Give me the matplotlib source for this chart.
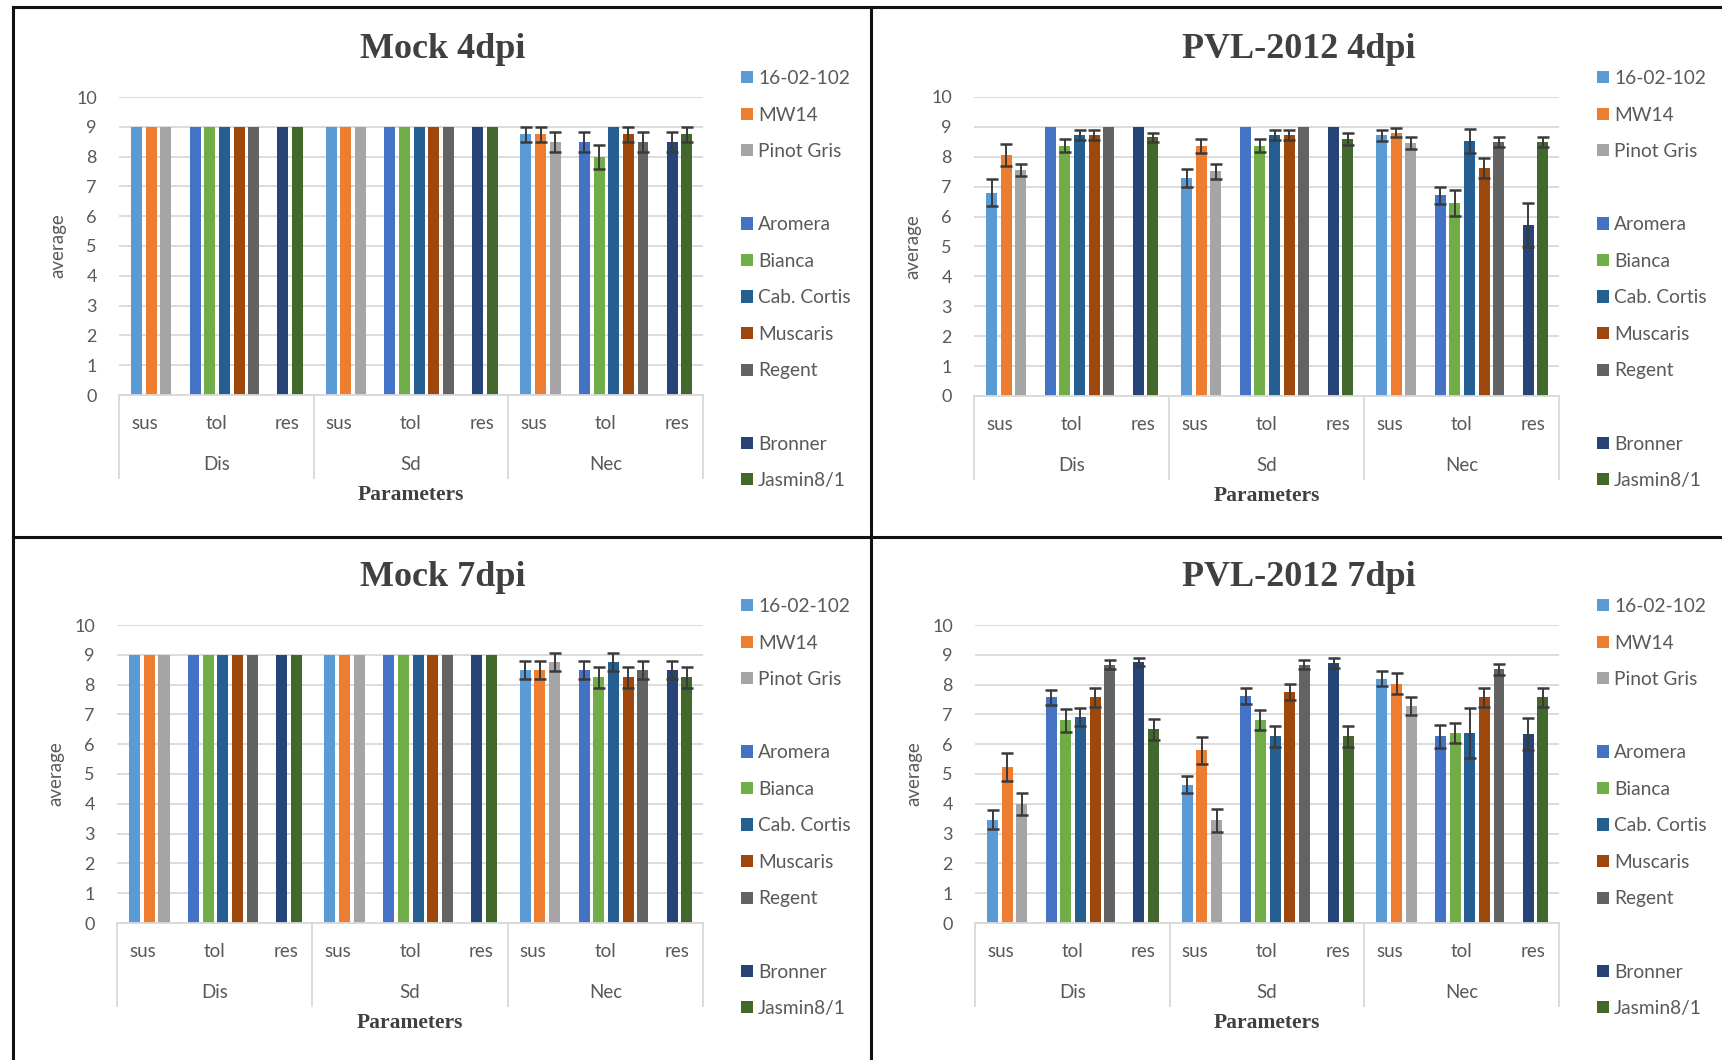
import matplotlib
matplotlib.use("Agg")
import matplotlib.pyplot as plt
from matplotlib.patches import Rectangle
from matplotlib.lines import Line2D
import matplotlib.transforms as mtransforms

# ---------------- data ----------------
series = ["16-02-102", "MW14", "Pinot Gris", "Aromera", "Bianca", "Cab. Cortis",
          "Muscaris", "Regent", "Bronner", "Jasmin8/1"]
colors = ["#5B9BD5", "#ED7D31", "#A5A5A5", "#4472C4", "#70AD47", "#255E91",
          "#9E480E", "#636363", "#264478", "#43682B"]
groups = ["sus", "tol", "res"]
params = ["Dis", "Sd", "Nec"]
yticks = list(range(0, 11))

# values: one row per parameter (Dis, Sd, Nec), one column per series
mock4_mean = [[9, 9, 9, 9, 9, 9, 9, 9, 9, 9],
              [9, 9, 9, 9, 9, 9, 9, 9, 9, 9],
              [8.75, 8.75, 8.5, 8.5, 8.0, 9.0, 8.75, 8.5, 8.5, 8.75]]
mock4_err = [[0] * 10,
             [0] * 10,
             [0.25, 0.25, 0.33, 0.33, 0.4, 0, 0.25, 0.33, 0.33, 0.25]]

pvl4_mean = [[6.8, 8.05, 7.55, 9.0, 8.37, 8.72, 8.72, 9.0, 9.0, 8.65],
             [7.3, 8.36, 7.52, 9.0, 8.37, 8.72, 8.72, 9.0, 9.0, 8.58],
             [8.72, 8.8, 8.47, 6.71, 6.45, 8.53, 7.63, 8.5, 5.72, 8.5]]
pvl4_err = [[0.45, 0.37, 0.2, 0, 0.21, 0.16, 0.16, 0, 0, 0.15],
            [0.3, 0.22, 0.25, 0, 0.21, 0.16, 0.16, 0, 0, 0.2],
            [0.18, 0.15, 0.2, 0.28, 0.43, 0.39, 0.33, 0.16, 0.73, 0.16]]

mock7_mean = [[9, 9, 9, 9, 9, 9, 9, 9, 9, 9],
              [9, 9, 9, 9, 9, 9, 9, 9, 9, 9],
              [8.5, 8.5, 8.75, 8.5, 8.25, 8.75, 8.25, 8.5, 8.5, 8.25]]
mock7_err = [[0] * 10,
             [0] * 10,
             [0.3, 0.3, 0.3, 0.3, 0.35, 0.3, 0.35, 0.3, 0.3, 0.35]]

pvl7_mean = [[3.47, 5.23, 4.0, 7.57, 6.8, 6.91, 7.57, 8.67, 8.76, 6.5],
             [4.64, 5.79, 3.44, 7.61, 6.8, 6.26, 7.75, 8.67, 8.73, 6.26],
             [8.2, 8.03, 7.28, 6.26, 6.38, 6.38, 7.57, 8.51, 6.34, 7.57]]
pvl7_err = [[0.32, 0.48, 0.37, 0.26, 0.39, 0.3, 0.32, 0.14, 0.14, 0.35],
            [0.29, 0.45, 0.39, 0.27, 0.34, 0.36, 0.27, 0.14, 0.17, 0.36],
            [0.25, 0.36, 0.31, 0.39, 0.34, 0.84, 0.32, 0.18, 0.55, 0.32]]

titles = ["Mock 4dpi", "PVL-2012 4dpi", "Mock 7dpi", "PVL-2012 7dpi"]
panel_data = [(mock4_mean, mock4_err), (pvl4_mean, pvl4_err),
              (mock7_mean, mock7_err), (pvl7_mean, pvl7_err)]

# ---------------- layout ----------------
W, H = 1722, 1060
fig = plt.figure(figsize=(W / 100, H / 100), dpi=100)
fig.patch.set_facecolor("white")

SANS = ["Lato", "DejaVu Sans"]
SERIF = ["Liberation Serif", "DejaVu Serif"]
TXT = "#595959"
GRID = "#D9D9D9"

# pixel boxes: (left, right, top(y=10), bottom(y=0)), title center, legend anchor
panels = [
    dict(ax=(119, 703, 97, 395), title=(443, 50), leg=(741, 70)),
    dict(ax=(974, 1559, 97, 396), title=(1299, 50), leg=(1597, 70)),
    dict(ax=(117, 703, 625, 923), title=(443, 578), leg=(741, 598)),
    dict(ax=(975, 1559, 625, 923), title=(1299, 578), leg=(1597, 598)),
]

PW = 13.3          # width of one parameter block (in bar slots)
SLOT0 = 1.2        # centre of first slot inside a block
BW = 0.75          # bar width
label_frac = [0.13, 0.5, 0.865]


def slot_of(i):
    return i + (1 if i >= 3 else 0) + (1 if i >= 8 else 0)


for k, (pan, (means, errs)) in enumerate(zip(panels, panel_data)):
    l, r, t, b = pan["ax"]
    ax = fig.add_axes([l / W, 1 - b / H, (r - l) / W, (b - t) / H])
    ax.set_xlim(0, 3 * PW)
    ax.set_ylim(0, 10)
    handles = [None] * len(series)
    for i, name in enumerate(series):
        xs = [p * PW + SLOT0 + slot_of(i) for p in range(len(params))]
        ys = [means[p][i] for p in range(len(params))]
        bc = ax.bar(xs, ys, width=BW, color=colors[i], zorder=2, label=name)
        handles[i] = bc
        ex = [x for x, p in zip(xs, range(len(params))) if errs[p][i] > 0]
        ey = [means[p][i] for p in range(len(params)) if errs[p][i] > 0]
        ee = [errs[p][i] for p in range(len(params)) if errs[p][i] > 0]
        if ex:
            ax.errorbar(ex, ey, yerr=ee, fmt="none", ecolor="#3a3a3a",
                        elinewidth=1.4, capsize=4.5, capthick=1.8, zorder=3)
    # grid
    ax.set_yticks(yticks)
    ax.yaxis.grid(True, color=GRID, linewidth=1.3, zorder=0)
    ax.set_axisbelow(True)
    for s in ["top", "right", "left"]:
        ax.spines[s].set_visible(False)
    ax.spines["bottom"].set_color(GRID)
    ax.spines["bottom"].set_linewidth(1.3)
    ax.tick_params(axis="y", length=0, pad=16, labelsize=13, labelcolor=TXT)
    for lab in ax.get_yticklabels():
        lab.set_fontfamily(SANS)
    ax.set_xticks([])
    # category axis
    trans = mtransforms.blended_transform_factory(ax.transData, ax.transAxes)
    for p in range(len(params) + 1):
        ax.plot([p * PW, p * PW], [0, -0.279], transform=trans, color=GRID,
                lw=1.3, clip_on=False)
    for p, pname in enumerate(params):
        for g, gname in enumerate(groups):
            ax.text(p * PW + label_frac[g] * PW, -0.095, gname, transform=trans,
                    ha="center", va="center", fontsize=13.5, color=TXT, family=SANS)
        ax.text(p * PW + 0.5 * PW, -0.232, pname, transform=trans,
                ha="center", va="center", fontsize=13.5, color=TXT, family=SANS)
    ax.text(0.5, -0.335, "Parameters", transform=ax.transAxes, ha="center",
            va="center", fontsize=15.5, fontweight="bold", color="#404040",
            family=SERIF)
    ax.text(-0.104, 0.5, "average", transform=ax.transAxes, ha="center",
            va="center", rotation=90, fontsize=13.5, color=TXT, family=SANS)
    # title
    tx, ty = pan["title"]
    fig.text(tx / W, 1 - ty / H, titles[k], ha="center", va="center",
             fontsize=26, fontweight="bold", color="#404040", family=SERIF)
    # legend with group gaps
    blank = Rectangle((0, 0), 1, 1, visible=False)
    hl = handles[:3] + [blank] + handles[3:8] + [blank] + handles[8:]
    ll = series[:3] + [""] + series[3:8] + [""] + series[8:]
    lx, ly = pan["leg"]
    leg = fig.legend(hl, ll, loc="upper left",
                     bbox_to_anchor=(lx / W, 1 - ly / H), frameon=False,
                     borderpad=0, borderaxespad=0, handlelength=0.6,
                     handleheight=0.6, handletextpad=0.3, labelspacing=1.02,
                     prop={"family": SANS, "size": 13.8})
    for txt in leg.get_texts():
        txt.set_color(TXT)

# panel borders
def fline(x0, y0, x1, y1):
    fig.add_artist(Line2D([x0 / W, x1 / W], [1 - y0 / H, 1 - y1 / H],
                          color="#111111", lw=2.2, transform=fig.transFigure))

fline(13, 7, W, 7)
fline(13, 7, 13, H)
fline(871, 7, 871, H)
fline(13, 537, W, 537)

fig.savefig("out.png", dpi=100, facecolor="white")
